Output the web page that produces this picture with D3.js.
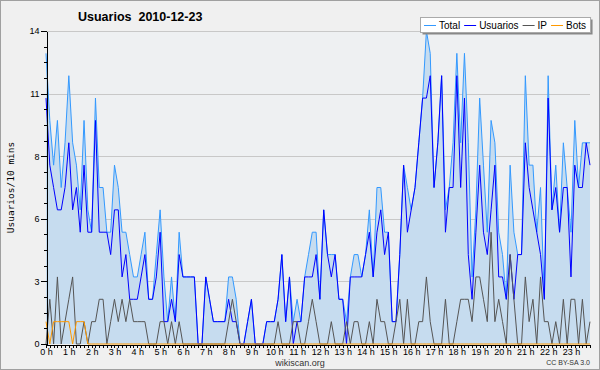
<!DOCTYPE html>
<html>
<head>
<meta charset="utf-8">
<script src="https://cdn.jsdelivr.net/npm/d3@7"></script>
<style>
body { margin: 0; background: #f0f0f0; }
svg { display: block; }
</style>
</head>
<body>
<div id="chart"></div>
<script>
// Values per 10 minute slot, 0h00 .. 23h50
var total = [
    13,10,8,10,7,9,12,9,8,6,10,6,5,11,7,7,5,5,8,7,5,5,4,3,
    3,4,5,2,2,4,6,3,1,3,1,5,3,3,3,3,0,0,3,2,1,1,1,1,
    3,3,2,0,0,1,2,0,0,0,1,1,1,2,4,1,3,1,2,1,3,4,5,5,
    2,6,4,4,4,2,2,1,3,4,4,3,4,6,3,7,7,5,5,1,1,4,8,7,
    6,7,9,11,14,13,7,9,12,6,7,9,13,9,13,9,3,6,11,8,5,10,9,5,
    4,2,8,5,4,4,12,8,8,5,7,2,12,6,8,5,9,7,5,10,7,9,9,9];
var usuarios = [
    11,8,7,6,6,7,9,6,7,5,8,5,5,10,5,5,5,4,6,6,3,4,2,2,
    2,3,4,2,2,3,5,1,1,2,1,4,3,3,3,3,0,0,3,2,1,1,1,1,
    2,1,1,0,0,1,2,0,0,0,1,1,1,2,4,1,3,0,1,1,3,3,3,4,
    2,6,4,3,4,2,2,0,3,3,3,3,4,5,3,5,6,4,5,1,1,4,8,5,
    6,7,9,11,11,12,7,9,12,5,7,7,12,7,11,4,2,5,8,5,4,6,8,3,
    3,2,4,2,4,4,9,7,6,5,4,2,11,6,7,5,7,7,3,8,7,7,9,8];
var ip = [
    0,2,0,3,0,1,2,3,0,0,1,0,1,1,2,2,0,1,2,1,2,1,2,1,
    1,1,1,0,0,0,1,1,0,1,0,1,0,0,0,0,0,0,0,0,0,0,0,0,
    1,2,1,0,0,0,0,0,0,0,0,0,0,1,0,0,0,1,1,0,0,1,2,1,
    0,0,0,1,0,0,0,1,0,1,1,0,0,1,0,2,1,1,0,0,1,2,0,2,
    0,0,1,1,3,1,0,0,0,2,0,0,1,2,2,2,1,3,3,2,1,5,1,2,
    1,0,4,2,0,0,3,1,2,0,3,1,1,0,1,0,2,0,2,2,0,2,0,1];
var bots = [
    1,0,1,1,1,1,1,0,1,1,1,0,0,0,0,0,0,0,0,0,0,0,0,0,
    0,0,0,0,0,0,0,0,0,0,0,0,0,0,0,0,0,0,0,0,0,0,0,0,
    0,0,0,0,0,0,0,0,0,0,0,0,0,0,0,0,0,0,0,0,0,0,0,0,
    0,0,0,0,0,0,0,0,0,0,0,0,0,0,0,0,0,0,0,0,0,0,0,0,
    0,0,0,0,0,0,0,0,0,0,0,0,0,0,0,0,0,0,0,0,0,0,0,0,
    0,0,0,0,0,0,0,0,0,0,0,0,0,0,0,0,0,0,0,0,0,0,0,0];
var hourLabels = ["0 h","1 h","2 h","3 h","4 h","5 h","6 h","7 h","8 h","9 h","10 h","11 h",
    "12 h","13 h","14 h","15 h","16 h","17 h","18 h","19 h","20 h","21 h","22 h","23 h"];
var yTicks = [0, 2.8, 5.6, 8.4, 11.2, 14];
var yTickLabels = ["0", "3", "6", "8", "11", "14"];
var seriesNames = ["Total", "Usuarios", "IP", "Bots"];
var seriesColors = ["#3399ff", "#0000ff", "#555555", "#ff9900"];

var outerWidth = 600, outerHeight = 370;
var margin = {top: 31, right: 10, bottom: 26, left: 46};
var width = outerWidth - margin.left - margin.right;
var height = outerHeight - margin.top - margin.bottom;

var svg = d3.select("#chart")
    .append("svg")
    .attr("width", outerWidth)
    .attr("height", outerHeight);

svg.append("rect")
    .attr("x", 0.5).attr("y", 0.5)
    .attr("width", outerWidth - 1).attr("height", outerHeight - 1)
    .style("fill", "#f0f0f0")
    .style("stroke", "#a0a0a0");

var g = svg.append("g")
    .attr("transform", "translate(" + margin.left + "," + margin.top + ")");

var xScale = d3.scaleLinear()
    .domain([0, total.length - 1])
    .range([0, width]);

var yScale = d3.scaleLinear()
    .domain([0, 14])
    .range([height, 0]);

g.append("rect")
    .attr("width", width)
    .attr("height", height)
    .style("fill", "#eef0f2");

// Y gridlines
g.append("g")
    .selectAll("line")
    .data(yTicks.slice(1))
    .enter().append("line")
    .attr("x1", 0)
    .attr("x2", width)
    .attr("y1", d => Math.round(yScale(d)) + 0.5)
    .attr("y2", d => Math.round(yScale(d)) + 0.5)
    .style("stroke", "#c8c8c8");

var slot = (d, i) => xScale(i);

// Total area
var totalArea = d3.area()
    .x(slot)
    .y0(height)
    .y1(d => yScale(d));

g.append("path")
    .datum(total)
    .attr("d", totalArea)
    .style("fill", "#c6dcef");

var line = d3.line()
    .x(slot)
    .y(d => yScale(d));

[total, usuarios, ip, bots].forEach(function(series, k) {
    g.append("path")
        .datum(series)
        .attr("d", line)
        .style("fill", "none")
        .style("stroke", seriesColors[k])
        .style("stroke-width", 1);
});

// Y axis
g.append("g")
    .attr("class", "axis")
    .attr("transform", "translate(0.5,0)")
    .call(d3.axisLeft(yScale)
          .tickValues(d3.range(0, 14.01, 0.7))
          .tickSize(3)
          .tickSizeOuter(0)
          .tickFormat(""));

g.append("g")
    .attr("class", "axis")
    .attr("transform", "translate(0.5,0)")
    .call(d3.axisLeft(yScale)
          .tickValues(yTicks)
          .tickSize(6)
          .tickPadding(1)
          .tickSizeOuter(0)
          .tickFormat((d, i) => yTickLabels[i]));

// X axis
g.append("g")
    .attr("class", "axis")
    .attr("transform", "translate(0," + (height + 0.5) + ")")
    .call(d3.axisBottom(xScale)
          .tickValues(total.map((d, i) => i))
          .tickSize(3)
          .tickSizeOuter(0)
          .tickFormat(""));

g.append("g")
    .attr("class", "axis")
    .attr("transform", "translate(0," + (height + 0.5) + ")")
    .call(d3.axisBottom(xScale)
          .tickValues(hourLabels.map((d, i) => i * 6))
          .tickSize(3)
          .tickPadding(1)
          .tickSizeOuter(0)
          .tickFormat((d, i) => hourLabels[i]));

g.selectAll(".axis path, .axis line")
    .style("stroke", "#000")
    .style("shape-rendering", "crispEdges");

g.selectAll(".axis text")
    .style("font-family", "Liberation Sans")
    .style("font-size", "9px")
    .style("fill", "#000");

// Title and labels
svg.append("text")
    .attr("x", 78)
    .attr("y", 21)
    .style("font-family", "Liberation Sans")
    .style("font-weight", "bold")
    .style("font-size", "12.5px")
    .text("Usuarios\u00a0\u00a02010-12-23");

svg.append("text")
    .attr("transform", "translate(14," + (margin.top + height / 2) + ") rotate(-90)")
    .style("text-anchor", "middle")
    .style("font-family", "DejaVu Sans Mono")
    .style("font-size", "9.5px")
    .text("Usuarios/10 mins");

svg.append("text")
    .attr("x", 300)
    .attr("y", 366)
    .style("text-anchor", "middle")
    .style("font-family", "Liberation Sans")
    .style("font-size", "9px")
    .style("fill", "#333")
    .text("wikiscan.org");

svg.append("text")
    .attr("x", 590)
    .attr("y", 365)
    .style("text-anchor", "end")
    .style("font-family", "Liberation Sans")
    .style("font-size", "7px")
    .style("fill", "#333")
    .text("CC BY-SA 3.0");

// Legend
var legend = svg.append("g")
    .attr("transform", "translate(420,17)");

var legendBox = legend.append("rect")
    .attr("x", 2.5).attr("y", 2.5)
    .attr("height", 15)
    .style("fill", "#888");

var legendFront = legend.append("rect")
    .attr("x", 0.5).attr("y", 0.5)
    .attr("height", 15)
    .style("fill", "#fff")
    .style("stroke", "#aaa");

var cursor = 4;
seriesNames.forEach(function(name, k) {
    legend.append("line")
        .attr("x1", cursor).attr("x2", cursor + 12)
        .attr("y1", 8.5).attr("y2", 8.5)
        .style("stroke", seriesColors[k]);
    var t = legend.append("text")
        .attr("x", cursor + 15)
        .attr("y", 12)
        .style("font-family", "Liberation Sans")
        .style("font-size", "10px")
        .text(name);
    cursor += 15 + t.node().getComputedTextLength() + 4;
});
legendBox.attr("width", cursor);
legendFront.attr("width", cursor);
</script>
</body>
</html>
